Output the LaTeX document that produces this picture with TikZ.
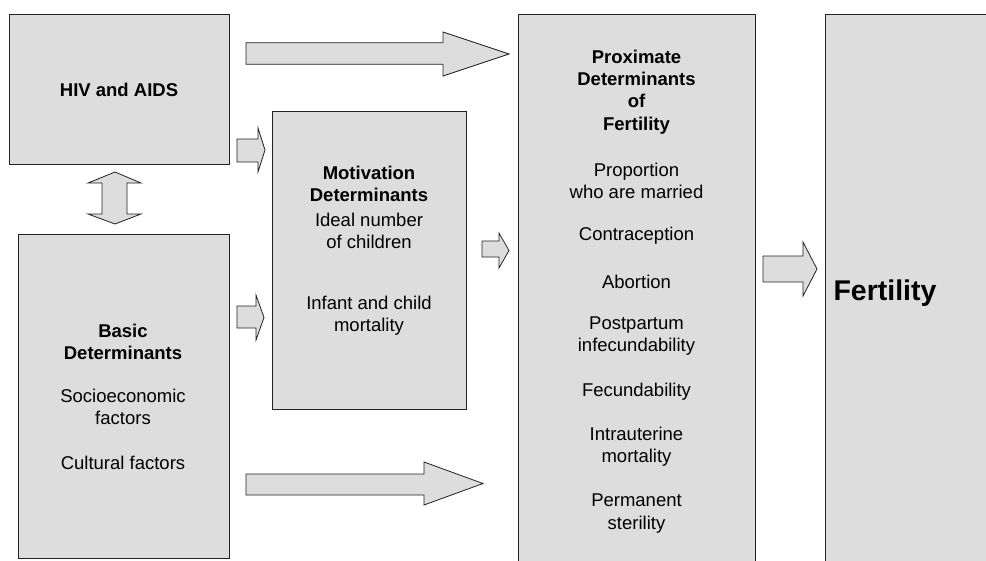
\documentclass[tikz,border=0pt]{standalone}
\usepackage{fontspec}
\setmainfont{Liberation Sans}
\usetikzlibrary{calc}
\definecolor{boxgray}{HTML}{DDDDDD}
\definecolor{edgegray}{HTML}{222222}
\tikzset{
  box/.style={rectangle, draw=edgegray, fill=boxgray, line width=0.8pt, inner sep=0pt},
  blockarrow/.style={draw=edgegray, fill=boxgray, line width=0.8pt, line join=miter},
  txt/.style={align=center, inner sep=0pt, font=\fontsize{18.5}{22.2}\selectfont},
  btxt/.style={align=center, inner sep=0pt, font=\fontsize{18.5}{22.2}\selectfont\bfseries},
  bigtxt/.style={align=center, inner sep=0pt, font=\fontsize{28.5}{32}\selectfont\bfseries},
}
% tail, tip, shaft half width, head half width, head length
\newcommand{\hblock}[5]{%
  \draw[blockarrow] ($(#1)+(0,-#3)$) -- ($(#1 -| #2)+(-#5,-#3)$) -- ($(#2)+(-#5,-#4)$) -- (#2)
    -- ($(#2)+(-#5,#4)$) -- ($(#1 -| #2)+(-#5,#3)$) -- ($(#1)+(0,#3)$) -- cycle;}
\begin{document}
\begin{tikzpicture}[x=1pt,y=-1pt]
\useasboundingbox (0,0) rectangle (986,560);
\clip (0,0) rectangle (986,560);

% boxes
\node[box, minimum width=220pt, minimum height=150pt] (hiv) at (119,89) {};
\node[box, minimum width=211pt, minimum height=324pt] (basic) at (123.5,396) {};
\node[box, minimum width=194pt, minimum height=298pt] (motiv) at (369,260) {};
\node[box, minimum width=237pt, minimum height=560pt] (prox) at (636.5,294) {};
\node[box, minimum width=200pt, minimum height=560pt] (fert) at (925,294) {};

% texts
\node[btxt] (hivt) at (119,90) {HIV and AIDS};

\node[btxt] (motivt) at (369,183.5) {Motivation\\Determinants};
\node[txt] (motiv1) at (369,231) {Ideal number\\of children};
\node[txt] (motiv2) at (369,316) {Infant and child\\mortality};

\node[btxt] (basict) at (123,341.5) {Basic\\Determinants};
\node[txt] (basic1) at (123,407) {Socioeconomic\\factors};
\node[txt] (basic2) at (123,463) {Cultural factors};

\node[btxt] (proxt) at (636.5,92) {Proximate\\Determinants\\of\\Fertility};
\node[txt] (prox1) at (636.5,181) {Proportion\\who are married};
\node[txt] (prox2) at (636.5,236) {Contraception};
\node[txt] (prox3) at (636.5,281.5) {Abortion};
\node[txt] (prox4) at (636.5,336) {Postpartum\\infecundability};
\node[txt] (prox5) at (636.5,392) {Fecundability};
\node[txt] (prox6) at (636.5,446.5) {Intrauterine\\mortality};
\node[txt] (prox7) at (636.5,513.5) {Permanent\\sterility};

\node[bigtxt] (fertt) at (885,293) {Fertility};

% block arrows
\coordinate (a1t) at (246,53.5);  \coordinate (a1h) at (509,54);
\coordinate (a2t) at (237,150.5); \coordinate (a2h) at (265,150);
\coordinate (a3t) at (237,317);   \coordinate (a3h) at (264,317.5);
\coordinate (a4t) at (482,249);   \coordinate (a4h) at (509,250.5);
\coordinate (a5t) at (246,484.5); \coordinate (a5h) at (483,483.5);
\coordinate (a6t) at (763,269);   \coordinate (a6h) at (817,269);
\hblock{a1t}{a1h}{10.75}{22}{66}
\hblock{a2t}{a2h}{11.5}{22}{7}
\hblock{a3t}{a3h}{11}{22.5}{8}
\hblock{a4t}{a4h}{8}{17.5}{10}
\hblock{a5t}{a5h}{10.5}{21.5}{59}
\hblock{a6t}{a6h}{13}{27}{14}

% double arrow between HIV and Basic
\coordinate (dtop) at (115,172);
\coordinate (dbot) at (115,224);
\draw[blockarrow] (dtop) -- ($(dtop)+(26,11)$) -- ($(dtop)+(12,11)$) -- ($(dbot)+(12,-10)$)
  -- ($(dbot)+(26,-10)$) -- (dbot) -- ($(dbot)+(-27,-10)$) -- ($(dbot)+(-13,-10)$)
  -- ($(dtop)+(-13,11)$) -- ($(dtop)+(-27,11)$) -- cycle;
\end{tikzpicture}
\end{document}
